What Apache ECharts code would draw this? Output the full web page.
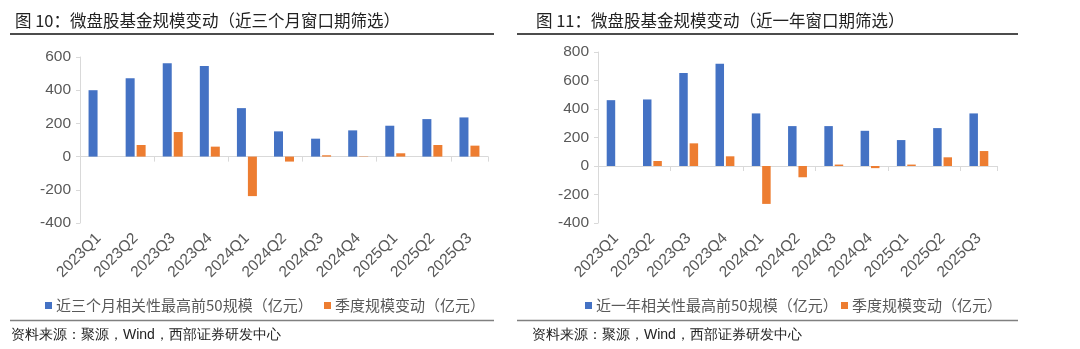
<!DOCTYPE html>
<html>
<head>
<meta charset="utf-8">
<script src="https://cdn.jsdelivr.net/npm/echarts@6/dist/echarts.min.js"></script>
<style>
html,body{margin:0;padding:0;background:#fff;}
#c{width:1080px;height:349px;}
</style>
</head>
<body>
<div id="c"></div>
<script>
const categories = ['2023Q1','2023Q2','2023Q3','2023Q4','2024Q1','2024Q2','2024Q3','2024Q4','2025Q1','2025Q2','2025Q3'];

const leftTitle = '图 10：微盘股基金规模变动（近三个月窗口期筛选）';
const leftBlueName = '近三个月相关性最高前50规模（亿元）';
const leftBlue = [400, 472, 562, 546, 292, 152, 108, 158, 186, 226, 236];
const leftOrange = [0, 70, 148, 60, -238, -30, 8, -2, 20, 70, 66];
const leftTicks = [-400, -200, 0, 200, 400, 600];

const rightTitle = '图 11：微盘股基金规模变动（近一年窗口期筛选）';
const rightBlueName = '近一年相关性最高前50规模（亿元）';
const rightBlue = [462, 467, 653, 718, 369, 280, 280, 247, 182, 266, 369];
const rightOrange = [0, 35, 159, 68, -266, -79, 10, -15, 10, 61, 105];
const rightTicks = [-400, -200, 0, 200, 400, 600, 800];

const orangeName = '季度规模变动（亿元）';
const sourceText = '资料来源：聚源，Wind，西部证券研发中心';

const BLUE = '#4472C4', ORANGE = '#ED7D31';
const CJK = '"Noto Sans CJK SC", sans-serif';
const LAT = '"Liberation Sans", Arial, sans-serif';

const chart = echarts.init(document.getElementById('c'), null, {renderer: 'canvas'});

function yAxis(gi, ticks) {
  return {
    type: 'value', gridIndex: gi,
    min: ticks[0], max: ticks[ticks.length - 1], interval: 200,
    axisLine: {show: true, lineStyle: {color: '#d9d9d9', width: 1}},
    axisTick: {show: true, length: 4, lineStyle: {color: '#d9d9d9'}},
    splitLine: {show: false},
    axisLabel: {color: '#595959', fontSize: 15.5, fontFamily: LAT, margin: 9}
  };
}
function xAxes(gi) {
  return [
    {
      type: 'category', gridIndex: gi, data: categories, position: 'bottom',
      axisLine: {onZero: true, lineStyle: {color: '#d9d9d9', width: 1}},
      axisTick: {show: true, length: 5, lineStyle: {color: '#d9d9d9'}},
      axisLabel: {show: false}
    },
    {
      type: 'category', gridIndex: gi, data: categories, position: 'bottom',
      axisLine: {show: false, onZero: false},
      axisTick: {show: false},
      axisLabel: {rotate: 45, color: '#595959', fontSize: 15.5, fontFamily: LAT, margin: 13}
    }
  ];
}
function legendItem(name, left) {
  return {
    data: [name], left: left, top: 293, icon: 'rect', itemWidth: 7, itemHeight: 7,
    itemGap: 4, selectedMode: false,
    textStyle: {fontSize: 15, color: '#595959', fontFamily: CJK, padding: [0, 0, 0, -1]}
  };
}

chart.setOption({
  animation: false,
  title: [
    {text: leftTitle, left: 10, top: 7, textStyle: {fontSize: 16.5, fontWeight: 'normal', color: '#222', fontFamily: CJK}},
    {text: rightTitle, left: 531, top: 7, textStyle: {fontSize: 16.5, fontWeight: 'normal', color: '#222', fontFamily: CJK}}
  ],
  grid: [
    {left: 80, top: 57, width: 408, height: 166},
    {left: 598, top: 52, width: 399, height: 171}
  ],
  xAxis: [...xAxes(0), ...xAxes(1)],
  yAxis: [yAxis(0, leftTicks), yAxis(1, rightTicks)],
  legend: [
    legendItem(leftBlueName, 40),
    legendItem(orangeName, 319),
    legendItem(rightBlueName, 580),
    legendItem(orangeName, 836)
  ],
  series: [
    {name: leftBlueName, type: 'bar', xAxisIndex: 0, yAxisIndex: 0, data: leftBlue, barWidth: 9, barGap: '22%', itemStyle: {color: BLUE}},
    {name: orangeName, type: 'bar', xAxisIndex: 0, yAxisIndex: 0, data: leftOrange, barWidth: 9, barGap: '22%', itemStyle: {color: ORANGE}},
    {name: rightBlueName, type: 'bar', xAxisIndex: 2, yAxisIndex: 1, data: rightBlue, barWidth: 8.5, barGap: '22%', itemStyle: {color: BLUE}},
    {name: orangeName, type: 'bar', xAxisIndex: 2, yAxisIndex: 1, data: rightOrange, barWidth: 8.5, barGap: '22%', itemStyle: {color: ORANGE}}
  ],
  graphic: [
    {type: 'line', shape: {x1: 10, y1: 34, x2: 494, y2: 34}, style: {stroke: '#111', lineWidth: 1.5}},
    {type: 'line', shape: {x1: 517, y1: 34, x2: 1018, y2: 34}, style: {stroke: '#111', lineWidth: 1.5}},
    {type: 'line', shape: {x1: 10, y1: 320.5, x2: 494, y2: 320.5}, style: {stroke: '#808080', lineWidth: 1.5}},
    {type: 'line', shape: {x1: 517, y1: 320.5, x2: 1018, y2: 320.5}, style: {stroke: '#808080', lineWidth: 1.5}},
    {type: 'text', left: 11, top: 328, style: {text: sourceText, fontSize: 14, fill: '#222', font: '14px ' + CJK}},
    {type: 'text', left: 532, top: 328, style: {text: sourceText, fontSize: 14, fill: '#222', font: '14px ' + CJK}}
  ]
});
</script>
</body>
</html>
